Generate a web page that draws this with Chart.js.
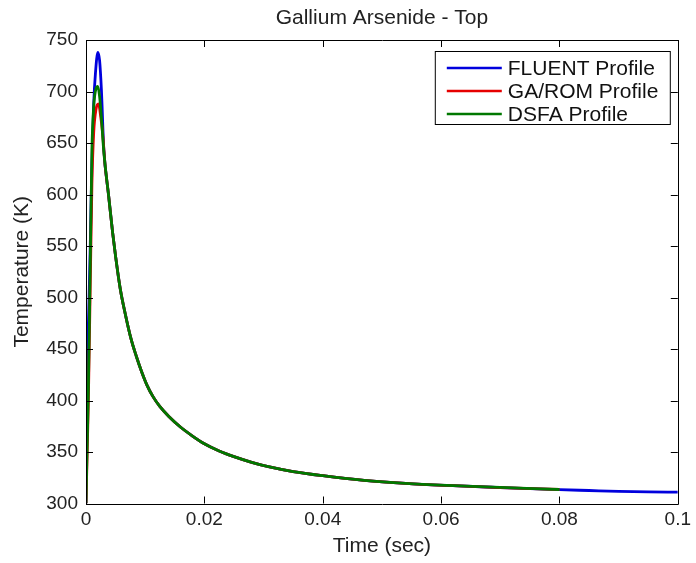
<!DOCTYPE html>
<html>
<head>
<meta charset="utf-8">
<title>Gallium Arsenide - Top</title>
<script src="https://cdn.jsdelivr.net/npm/chart.js@4.4.1/dist/chart.umd.min.js"></script>
<style>
  html, body { margin: 0; padding: 0; background: #fff; }
  #wrap { width: 696px; height: 563px; }
</style>
</head>
<body>
<div id="wrap"><canvas id="tempChart" width="696" height="563"></canvas></div>
<script>
// Values (time in seconds, temperature in K)
var fluentTime = [0, 0.0001, 0.0003, 0.0005, 0.0007, 0.0010, 0.0013, 0.0016, 0.0020, 0.0023, 0.0026, 0.0030,
  0.0038, 0.0045, 0.0050, 0.0058, 0.0066, 0.0076, 0.0085, 0.0094, 0.0103, 0.0113, 0.0125, 0.0140, 0.0160,
  0.0180, 0.0200, 0.0225, 0.0250, 0.0280, 0.0310, 0.0350, 0.0400, 0.0470, 0.0540, 0.0610, 0.0700, 0.0800,
  0.0850, 0.0900, 0.0950, 0.1000];
var fluentTemp = [300, 370, 450, 495, 545, 630, 688, 718, 738, 730, 702, 645,
  600, 563, 540, 508, 485, 460, 443, 428, 415, 404, 394, 384.5, 374,
  365.5, 358, 351, 345.5, 340, 335.5, 331, 327, 322.5, 319.5, 317.5, 315.5, 313.5,
  312.6, 311.7, 311.2, 311];

var gaRomTime = [0, 0.0001, 0.0004, 0.0007, 0.0010, 0.0013, 0.0017, 0.0021, 0.0025, 0.0028, 0.0032,
  0.0038, 0.0045, 0.0050, 0.0058, 0.0066, 0.0076, 0.0085, 0.0094, 0.0103, 0.0113, 0.0125, 0.0140, 0.0160,
  0.0180, 0.0200, 0.0225, 0.0250, 0.0280, 0.0310, 0.0350, 0.0400, 0.0470, 0.0540, 0.0610, 0.0700, 0.0800];
var gaRomTemp = [300, 325, 400, 505, 610, 660, 683, 688, 675, 660, 630,
  600, 563, 540, 508, 485, 460, 443, 428, 415, 404, 394, 384.5, 374,
  365.5, 358, 351, 345.5, 340, 335.5, 331, 327, 322.5, 319.5, 317.5, 315.5, 313.6];

var dsfaTime = [0, 0.0001, 0.0004, 0.0007, 0.0010, 0.0013, 0.0017, 0.0020, 0.0023, 0.0026, 0.0030,
  0.0038, 0.0045, 0.0050, 0.0058, 0.0066, 0.0076, 0.0085, 0.0094, 0.0103, 0.0113, 0.0125, 0.0140, 0.0160,
  0.0180, 0.0200, 0.0225, 0.0250, 0.0280, 0.0310, 0.0350, 0.0400, 0.0470, 0.0540, 0.0610, 0.0700, 0.0800];
var dsfaTemp = [300, 330, 410, 525, 643, 685, 703, 705, 695, 675, 642,
  600, 563, 540, 508, 485, 460, 443, 428, 415, 404, 394, 384.5, 374,
  365.5, 358, 351, 345.5, 340, 335.5, 331, 327, 322.5, 319.5, 317.5, 315.6, 313.6];

var seriesNames = ['FLUENT Profile', 'GA/ROM Profile', 'DSFA Profile'];
var seriesColors = ['#0000dd', '#e60000', '#007800'];

var xTickValues = [0, 0.02, 0.04, 0.06, 0.08, 0.1];
var xTickLabels = ['0', '0.02', '0.04', '0.06', '0.08', '0.1'];
var yTickValues = [300, 350, 400, 450, 500, 550, 600, 650, 700, 750];
var yTickLabels = ['300', '350', '400', '450', '500', '550', '600', '650', '700', '750'];

var TICK_LEN = 7;
var FONT = '"Liberation Sans", Arial, Helvetica, sans-serif';

function toPoints(xs, ys) {
  return xs.map(function(x, i) { return { x: x, y: ys[i] }; });
}

// MATLAB-like box with inward ticks on all four sides
var boxTicksPlugin = {
  id: 'boxTicks',
  afterDatasetsDraw: function(chart) {
    var ctx = chart.ctx;
    var area = chart.chartArea;
    var xs = chart.scales.x;
    var ys = chart.scales.y;
    ctx.save();
    ctx.strokeStyle = '#000';
    ctx.lineWidth = 1;
    ctx.beginPath();
    ctx.rect(Math.round(area.left) + 0.5, Math.round(area.top) + 0.5,
      Math.round(area.right - area.left), Math.round(area.bottom - area.top));
    xTickValues.forEach(function(v) {
      var px = Math.round(xs.getPixelForValue(v)) + 0.5;
      ctx.moveTo(px, area.bottom);
      ctx.lineTo(px, area.bottom - TICK_LEN);
      ctx.moveTo(px, area.top);
      ctx.lineTo(px, area.top + TICK_LEN);
    });
    yTickValues.forEach(function(v) {
      var py = Math.round(ys.getPixelForValue(v)) + 0.5;
      ctx.moveTo(area.left, py);
      ctx.lineTo(area.left + TICK_LEN, py);
      ctx.moveTo(area.right, py);
      ctx.lineTo(area.right - TICK_LEN, py);
    });
    ctx.stroke();
    ctx.restore();
  }
};

// legend box in the upper right of the axes
var boxLegendPlugin = {
  id: 'boxLegend',
  afterDraw: function(chart) {
    var ctx = chart.ctx;
    var area = chart.chartArea;
    var boxRight = area.right - 8;
    var boxLeft = boxRight - 235;
    var boxTop = area.top + 11;
    var rowH = 23;
    var boxH = 73;
    ctx.save();
    ctx.fillStyle = '#fff';
    ctx.fillRect(boxLeft, boxTop, boxRight - boxLeft, boxH);
    ctx.strokeStyle = '#000';
    ctx.lineWidth = 1;
    ctx.strokeRect(boxLeft + 0.5, boxTop + 0.5, boxRight - boxLeft, boxH);
    ctx.font = '21px ' + FONT;
    ctx.textBaseline = 'middle';
    ctx.textAlign = 'left';
    chart.data.datasets.forEach(function(ds, i) {
      var cy = boxTop + 17 + i * rowH;
      ctx.strokeStyle = ds.borderColor;
      ctx.lineWidth = 2.5;
      ctx.beginPath();
      ctx.moveTo(boxLeft + 12, cy);
      ctx.lineTo(boxLeft + 67, cy);
      ctx.stroke();
      ctx.fillStyle = '#111';
      ctx.fillText(ds.label, boxLeft + 73, cy + 1);
    });
    ctx.restore();
  }
};

Chart.defaults.font.family = FONT;

var ctx = document.getElementById('tempChart').getContext('2d');
var tempChart = new Chart(ctx, {
  type: 'line',
  data: {
    datasets: [
      { label: seriesNames[0], data: toPoints(fluentTime, fluentTemp), borderColor: seriesColors[0], order: 2 },
      { label: seriesNames[1], data: toPoints(gaRomTime, gaRomTemp), borderColor: seriesColors[1], order: 1 },
      { label: seriesNames[2], data: toPoints(dsfaTime, dsfaTemp), borderColor: seriesColors[2], order: 0 }
    ]
  },
  options: {
    responsive: false,
    animation: false,
    elements: {
      line: { borderWidth: 2.8, cubicInterpolationMode: 'monotone', fill: false, borderJoinStyle: 'round' },
      point: { radius: 0, hoverRadius: 0 }
    },
    layout: { padding: { left: 0, right: 15, top: 0, bottom: 0 } },
    scales: {
      x: {
        type: 'linear',
        min: 0,
        max: 0.1,
        afterBuildTicks: function(scale) {
          scale.ticks = xTickValues.map(function(v) { return { value: v }; });
        },
        afterFit: function(scale) { scale.height = 59.5; },
        ticks: {
          autoSkip: false,
          maxRotation: 0,
          padding: 5,
          color: '#222',
          font: { size: 19 },
          callback: function(value, index) { return xTickLabels[index]; }
        },
        grid: { display: false, drawTicks: false },
        border: { display: false },
        title: {
          display: true,
          text: 'Time (sec)',
          color: '#222',
          font: { size: 21 },
          padding: { top: 0, bottom: 4.4 }
        }
      },
      y: {
        type: 'linear',
        min: 300,
        max: 750,
        afterBuildTicks: function(scale) {
          scale.ticks = yTickValues.map(function(v) { return { value: v }; });
        },
        afterFit: function(scale) { scale.width = 86; },
        ticks: {
          autoSkip: false,
          padding: 8,
          color: '#222',
          font: { size: 19 },
          callback: function(value, index) { return yTickLabels[index]; }
        },
        grid: { display: false, drawTicks: false },
        border: { display: false },
        title: {
          display: true,
          text: 'Temperature (K)',
          color: '#222',
          font: { size: 21 },
          padding: { top: 9.4, bottom: 0 }
        }
      }
    },
    plugins: {
      legend: { display: false },
      tooltip: { enabled: false },
      title: {
        display: true,
        fullSize: false,
        text: 'Gallium Arsenide - Top',
        color: '#222',
        font: { size: 21, weight: 'normal' },
        padding: { top: 5.4, bottom: 9.4 }
      }
    }
  },
  plugins: [boxTicksPlugin, boxLegendPlugin]
});
</script>
</body>
</html>
